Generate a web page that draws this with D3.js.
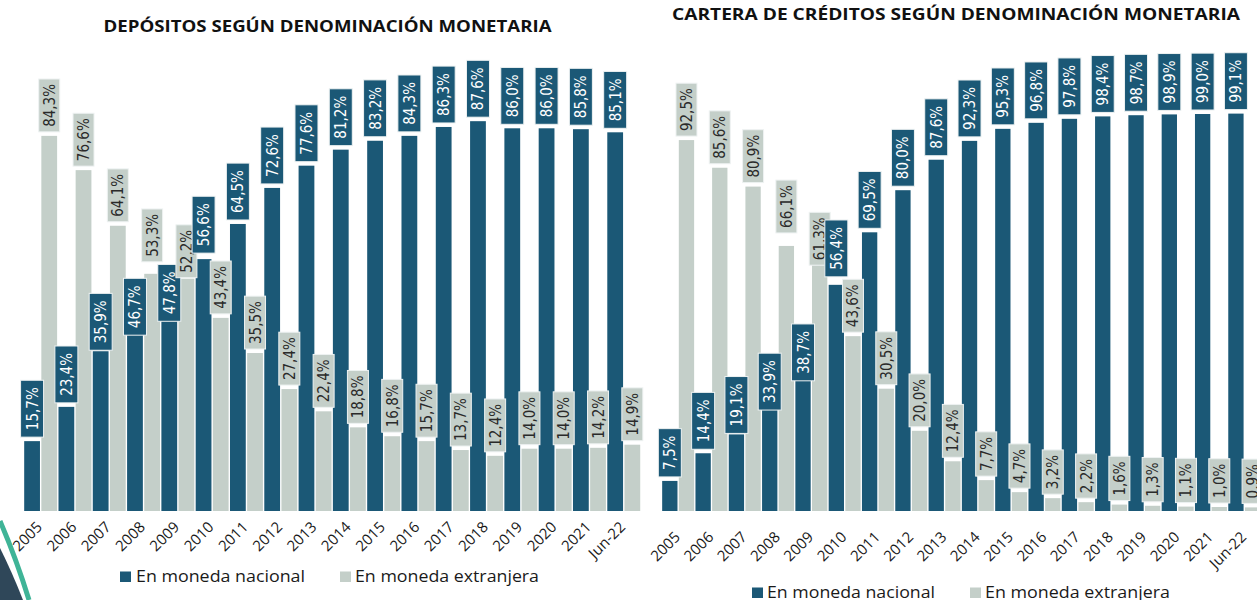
<!DOCTYPE html>
<html><head><meta charset="utf-8">
<script src="https://cdn.jsdelivr.net/npm/d3@7"></script>
<style>
html,body{margin:0;padding:0;background:#fff;overflow:hidden}
svg{display:block}
</style></head>
<body>
<svg id="chart" width="1257" height="600"></svg>
<script>
// ---------- DATA ----------
const categories = ["2005","2006","2007","2008","2009","2010","2011","2012","2013","2014","2015","2016","2017","2018","2019","2020","2021","Jun-22"];
const seriesNames = ["En moneda nacional","En moneda extranjera"];
const depositosNacional   = [15.7,23.4,35.9,46.7,47.8,56.6,64.5,72.6,77.6,81.2,83.2,84.3,86.3,87.6,86.0,86.0,85.8,85.1];
const depositosExtranjera = [84.3,76.6,64.1,53.3,52.2,43.4,35.5,27.4,22.4,18.8,16.8,15.7,13.7,12.4,14.0,14.0,14.2,14.9];
const creditosNacional    = [7.5,14.4,19.1,33.9,38.7,56.4,69.5,80.0,87.6,92.3,95.3,96.8,97.8,98.4,98.7,98.9,99.0,99.1];
const creditosExtranjera  = [92.5,85.6,80.9,66.1,61.3,43.6,30.5,20.0,12.4,7.7,4.7,3.2,2.2,1.6,1.3,1.1,1.0,0.9];
const titleDepositos = "DEPÓSITOS SEGÚN DENOMINACIÓN MONETARIA";
const titleCreditos  = "CARTERA DE CRÉDITOS SEGÚN DENOMINACIÓN MONETARIA";

// ---------- STYLE / LAYOUT ----------
const COLORS = ["#1b5876", "#c4cfc9"];
const LABEL_TEXT = ["#ffffff", "#2a2a2a"];
const svg = d3.select("#chart");

// decorative corner shape
svg.append("path").attr("d","M0,548 Q12,572 23,600 L0,600 Z").attr("fill","#2f4759");
svg.append("path").attr("d","M0,521 Q16,558 29,600").attr("fill","none").attr("stroke","#3fb497").attr("stroke-width",5);

// manual label nudges (px, positive = down), as in the original layout
const labelNudge = {
  dep:  [{"2007":3,"2008":36,"2009":27,"2010":-2}, {"2008":-8,"2009":3}],
  cred: [{"2007":3,"2008":39,"2009":29,"2010":-4}, {"2008":-9,"2009":4}]
};

const panels = [
  {key:"dep", title:titleDepositos, nac:depositosNacional, ext:depositosExtranjera,
   xRange:[23.5,640.9], yRange:[511,66], titleX:327.5, titleY:31.7, titleW:448,
   tickY:528, tickDx:2.5,
   legend:[{sx:120, tx:136, w:169},{sx:340, tx:355, w:184}], legendY:582},
  {key:"cred", title:titleCreditos, nac:creditosNacional, ext:creditosExtranjera,
   xRange:[661.5,1260.9], yRange:[511,110], titleX:956, titleY:19.5, titleW:568,
   tickY:538, tickDx:3,
   legend:[{sx:752, tx:767, w:168},{sx:970, tx:985, w:185}], legendY:598}
];

const fmt = v => d3.format(".1f")(v).replace(".", ",") + "%";

panels.forEach(p => {
  const g = svg.append("g");
  const x0 = d3.scaleBand().domain(categories).range(p.xRange).paddingInner(0.04).paddingOuter(0.02);
  const x1 = d3.scaleBand().domain([0,1]).range([0, x0.bandwidth()]).paddingInner(0.08).paddingOuter(0);
  const y = d3.scaleLinear().domain([0,100]).range(p.yRange);

  const rows = categories.map((c,i) => ({cat:c, vals:[p.nac[i], p.ext[i]]}));

  // bars
  const grp = g.selectAll("g.cat").data(rows).join("g").attr("class","cat")
     .attr("transform", d => `translate(${x0(d.cat)},0)`);
  grp.selectAll("rect").data(d => d.vals.map((v,s)=>({v,s,cat:d.cat}))).join("rect")
     .attr("x", d => x1(d.s)).attr("width", x1.bandwidth())
     .attr("y", d => y(d.v)).attr("height", d => y(0) - y(d.v))
     .attr("fill", d => COLORS[d.s]);

  // value labels
  const lab = g.append("g");
  rows.forEach(r => {
    r.vals.forEach((v,s) => {
      const cx = x0(r.cat) + x1(s) + x1.bandwidth()/2;
      const t = lab.append("text").text(fmt(v))
        .attr("font-family","'Liberation Sans Narrow','DejaVu Sans Condensed',sans-serif")
        .attr("font-size", 15).attr("fill", LABEL_TEXT[s])
        .attr("text-anchor","middle").attr("dominant-baseline","central");
      const len = t.node().getComputedTextLength();
      const pad = s === 0 ? 7 : 5;
      const bw = s === 0 ? 23 : 21;
      const bh = len + pad*2;
      const nudge = (labelNudge[p.key][s][r.cat]) || 0;
      const bottom = y(v) - 4 + nudge;
      const cy = bottom - bh/2;
      lab.insert("rect", () => t.node())
        .attr("x", cx - bw/2).attr("y", bottom - bh).attr("width", bw).attr("height", bh)
        .attr("fill", COLORS[s]).attr("stroke","#eef2f2").attr("stroke-width",1);
      t.attr("transform", `translate(${cx+0.5},${cy}) rotate(-90)`);
    });
  });

  // category axis labels
  const ax = g.append("g");
  categories.forEach(c => {
    ax.append("text").text(c)
      .attr("font-family","'Open Sans',sans-serif").attr("font-size",15).attr("fill","#1a1a1a")
      .attr("text-anchor","end")
      .attr("transform", `translate(${x0(c)+x0.bandwidth()/2+p.tickDx},${p.tickY}) rotate(-45)`);
  });

  // title
  g.append("text").text(p.title)
    .attr("x", p.titleX).attr("y", p.titleY).attr("text-anchor","middle")
    .attr("font-family","'Open Sans',sans-serif").attr("font-weight","bold").attr("font-size",15.5)
    .attr("fill","#111").attr("textLength", p.titleW).attr("lengthAdjust","spacingAndGlyphs");

  // legend
  p.legend.forEach((l,i) => {
    g.append("rect").attr("x", l.sx).attr("y", p.legendY-10.5).attr("width", 11).attr("height", 10.5).attr("fill", COLORS[i]);
    g.append("text").text(seriesNames[i]).attr("x", l.tx).attr("y", p.legendY)
      .attr("font-family","'Open Sans',sans-serif").attr("font-size",15.5).attr("fill","#1a1a1a")
      .attr("textLength", l.w).attr("lengthAdjust","spacingAndGlyphs");
  });
});
</script>
</body></html>
